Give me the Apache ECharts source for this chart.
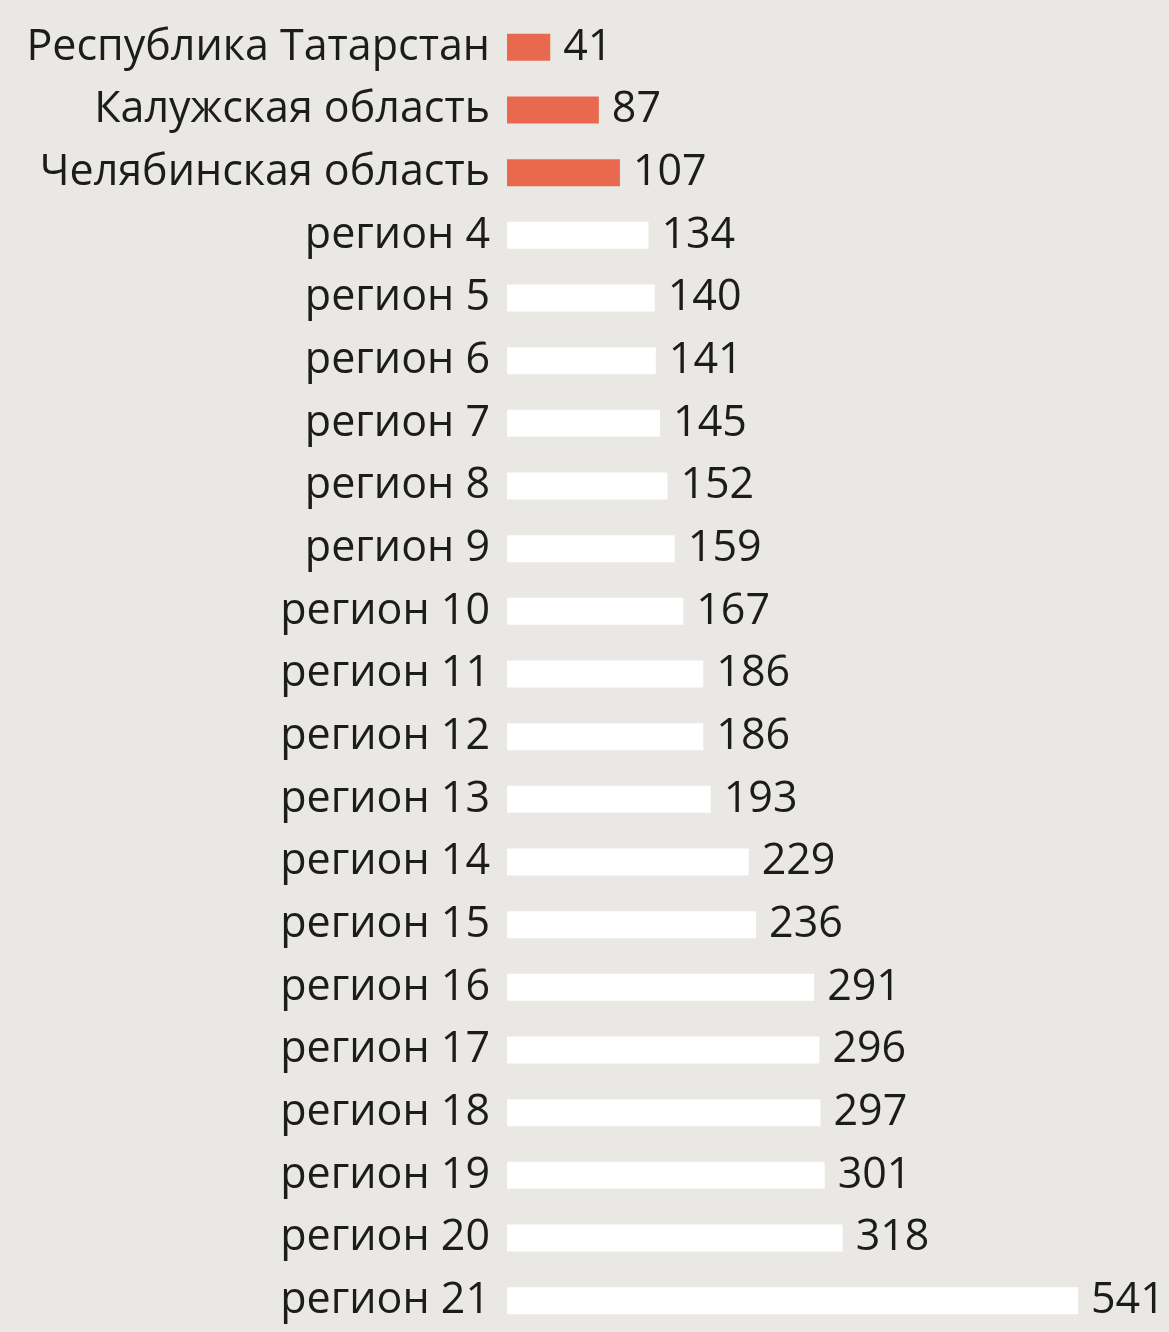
<!DOCTYPE html>
<html>
<head>
<meta charset="utf-8">
<script src="https://cdn.jsdelivr.net/npm/echarts@6/dist/echarts.min.js"></script>
<style>
  html, body { margin: 0; padding: 0; background: #eae8e4; }
  #chart { width: 1169px; height: 1332px; }
</style>
</head>
<body>
<div id="chart"></div>
<script>
// regions, top to bottom
const regions = [
    'Республика Татарстан', 'Калужская область', 'Челябинская область',
    'регион 4', 'регион 5', 'регион 6', 'регион 7', 'регион 8', 'регион 9',
    'регион 10', 'регион 11', 'регион 12', 'регион 13', 'регион 14', 'регион 15',
    'регион 16', 'регион 17', 'регион 18', 'регион 19', 'регион 20', 'регион 21'
];
const values = [41, 87, 107, 134, 140, 141, 145, 152, 159, 167, 186, 186, 193, 229, 236, 291, 296, 297, 301, 318, 541];
// first three are highlighted
const highlighted = 3;

const accent = '#e8694e';
const plain = '#ffffff';

const chart = echarts.init(document.getElementById('chart'), null, {renderer: 'canvas'});

chart.setOption({
    animation: false,
    backgroundColor: '#eae8e4',
    grid: {
        left: 507,
        right: 91,
        top: 16,
        height: 1324,
        containLabel: false
    },
    xAxis: {
        type: 'value',
        min: 0,
        max: 541,
        show: false
    },
    yAxis: {
        type: 'category',
        inverse: true,
        data: regions,
        axisLine: {show: false},
        axisTick: {show: false},
        axisLabel: {
            color: '#1c1c1c',
            fontFamily: 'Open Sans',
            fontSize: 43,
            margin: 17
        }
    },
    series: [{
        type: 'bar',
        barWidth: 27,
        data: values.map((v, i) => ({
            value: v,
            itemStyle: {color: i < highlighted ? accent : plain}
        })),
        label: {
            show: true,
            position: 'right',
            distance: 13,
            color: '#1c1c1c',
            fontFamily: 'Open Sans',
            fontSize: 43
        }
    }]
});
</script>
</body>
</html>
